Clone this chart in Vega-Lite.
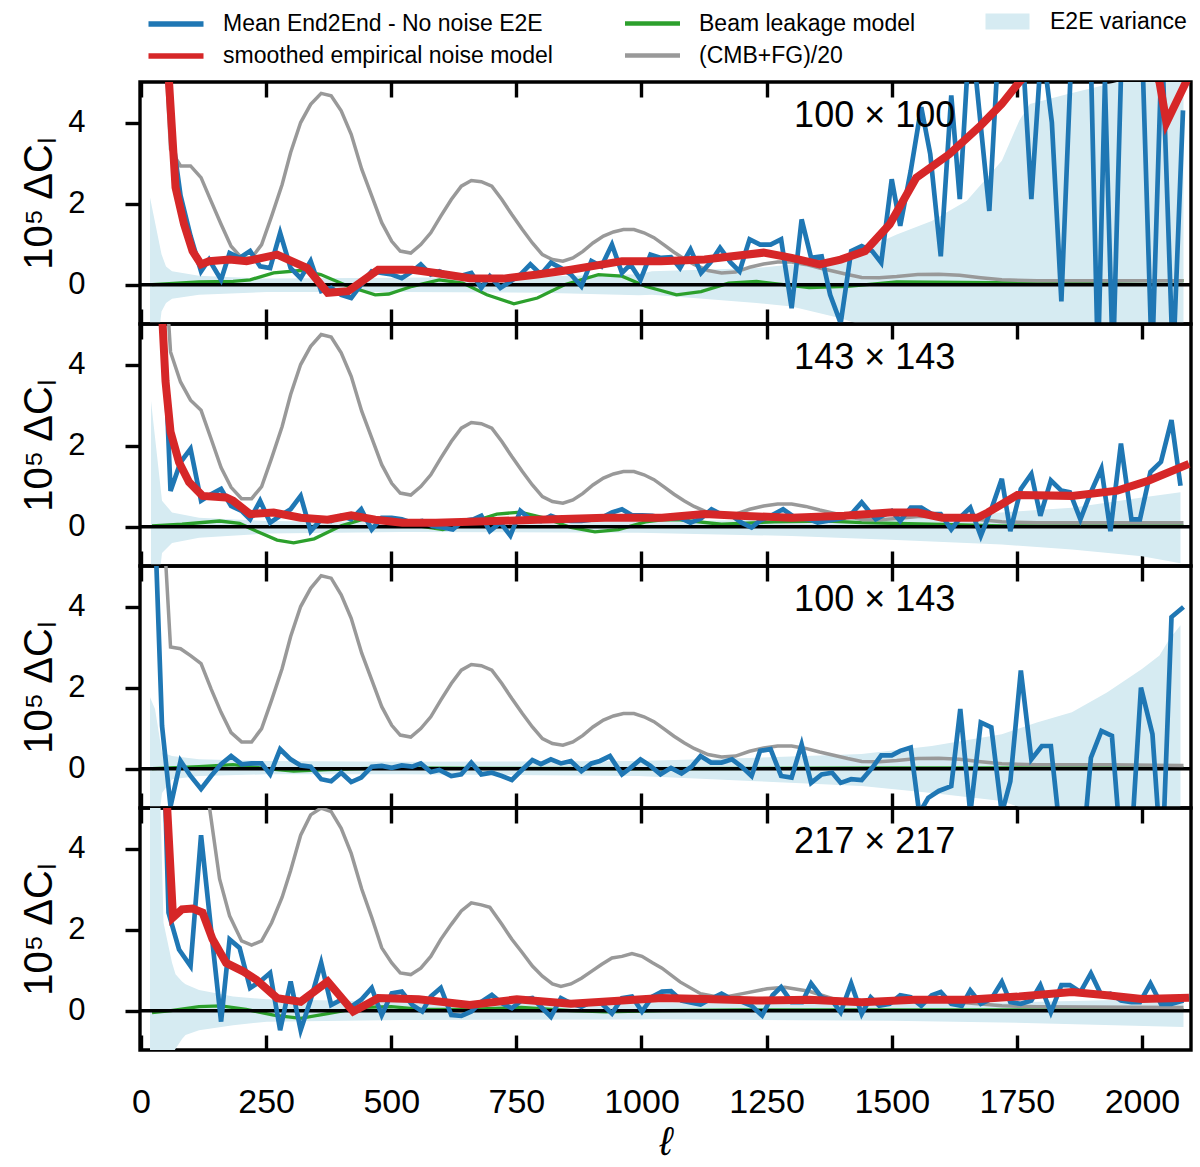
{
"$schema": "https://vega.github.io/schema/vega-lite/v6.json",
"background": "white",
"padding": {"left": 18, "top": 10, "right": 5, "bottom": 5},
"spacing": 0,
"bounds": "flush",
"config": {
 "font": "Liberation Sans",
 "view": {"stroke": "black", "strokeWidth": 3.4},
 "axis": {"domain": false, "grid": false, "tickColor": "black", "tickWidth": 3.4, "labelColor": "black", "titleColor": "black", "labelFont": "Liberation Sans", "titleFont": "Liberation Sans", "labelFontSize": 31, "labelFlush": false, "labelOverlap": false, "titleFontWeight": "normal"},
 "legend": {"labelFont": "Liberation Sans", "labelFontSize": 23, "labelColor": "black", "labelLimit": 0}
},
"datasets": {
 "b1": [{"l":38,"v":8},{"l":59,"v":4.0},{"l":79,"v":2.2},{"l":99,"v":1.2},{"l":120,"v":0.33},{"l":136,"v":0.62},{"l":160,"v":0.12},{"l":177,"v":0.78},{"l":197,"v":0.66},{"l":218,"v":0.83},{"l":238,"v":0.45},{"l":258,"v":0.41},{"l":278,"v":1.28},{"l":299,"v":0.41},{"l":319,"v":0.16},{"l":339,"v":0.58},{"l":360,"v":-0.16},{"l":380,"v":-0.08},{"l":400,"v":-0.25},{"l":420,"v":-0.33},{"l":440,"v":0},{"l":461,"v":0.33},{"l":481,"v":0.29},{"l":501,"v":0.25},{"l":521,"v":0.16},{"l":542,"v":0.33},{"l":559,"v":0.5},{"l":579,"v":0.25},{"l":596,"v":0.33},{"l":620,"v":0.21},{"l":636,"v":0.21},{"l":660,"v":0.29},{"l":680,"v":-0.08},{"l":697,"v":0.21},{"l":718,"v":-0.08},{"l":738,"v":0.08},{"l":758,"v":0.25},{"l":778,"v":0.5},{"l":799,"v":0.25},{"l":819,"v":0.54},{"l":839,"v":0.41},{"l":859,"v":0.25},{"l":880,"v":-0.04},{"l":900,"v":0.58},{"l":920,"v":0.45},{"l":941,"v":0.99},{"l":961,"v":0.29},{"l":978,"v":0.5},{"l":998,"v":0.12},{"l":1018,"v":0.74},{"l":1039,"v":0.66},{"l":1059,"v":0.68},{"l":1077,"v":0.41},{"l":1098,"v":0.87},{"l":1119,"v":0.29},{"l":1138,"v":0.55},{"l":1157,"v":0.91},{"l":1178,"v":0.55},{"l":1196,"v":0.33},{"l":1216,"v":1.12},{"l":1237,"v":0.99},{"l":1258,"v":0.99},{"l":1279,"v":1.12},{"l":1300,"v":-0.58},{"l":1320,"v":1.61},{"l":1339,"v":0.66},{"l":1360,"v":0.7},{"l":1377,"v":-0.25},{"l":1398,"v":-0.95},{"l":1419,"v":0.83},{"l":1440,"v":0.95},{"l":1461,"v":0.83},{"l":1479,"v":0.54},{"l":1500,"v":2.6},{"l":1517,"v":1.45},{"l":1538,"v":2.81},{"l":1559,"v":4.38},{"l":1577,"v":3.22},{"l":1598,"v":0.7},{"l":1619,"v":4.67},{"l":1636,"v":2.11},{"l":1657,"v":6.5},{"l":1695,"v":1.82},{"l":1716,"v":6.5},{"l":1737,"v":6},{"l":1758,"v":6.5},{"l":1779,"v":2.11},{"l":1800,"v":6},{"l":1820,"v":4},{"l":1839,"v":-0.41},{"l":1860,"v":6},{"l":1880,"v":6.5},{"l":1898,"v":5.5},{"l":1912,"v":-2},{"l":1926,"v":5},{"l":1942,"v":-2},{"l":1960,"v":6},{"l":1980,"v":7},{"l":2000,"v":6},{"l":2020,"v":-2},{"l":2040,"v":6},{"l":2062,"v":-2},{"l":2082,"v":4.3}],
 "r1": [{"l":40,"v":9},{"l":54,"v":5.4},{"l":69,"v":2.4},{"l":86,"v":1.49},{"l":103,"v":0.83},{"l":120,"v":0.5},{"l":136,"v":0.58},{"l":177,"v":0.62},{"l":211,"v":0.58},{"l":272,"v":0.74},{"l":332,"v":0.41},{"l":373,"v":-0.2},{"l":414,"v":-0.16},{"l":474,"v":0.37},{"l":542,"v":0.37},{"l":589,"v":0.29},{"l":657,"v":0.16},{"l":724,"v":0.15},{"l":792,"v":0.25},{"l":859,"v":0.37},{"l":961,"v":0.58},{"l":1039,"v":0.58},{"l":1126,"v":0.62},{"l":1244,"v":0.79},{"l":1300,"v":0.66},{"l":1356,"v":0.5},{"l":1398,"v":0.62},{"l":1447,"v":0.83},{"l":1496,"v":1.49},{"l":1549,"v":2.64},{"l":1615,"v":3.22},{"l":1678,"v":3.93},{"l":1720,"v":4.46},{"l":1755,"v":5.0},{"l":1800,"v":5.6},{"l":1900,"v":6.3},{"l":2000,"v":5.9},{"l":2035,"v":5.0},{"l":2049,"v":4.0},{"l":2092,"v":5.1}],
 "g1": [{"l":22,"v":0},{"l":116,"v":0.07},{"l":184,"v":0.08},{"l":218,"v":0.12},{"l":265,"v":0.29},{"l":319,"v":0.35},{"l":359,"v":0.25},{"l":414,"v":-0.04},{"l":468,"v":-0.25},{"l":495,"v":-0.23},{"l":542,"v":-0.04},{"l":596,"v":0.12},{"l":643,"v":0.04},{"l":691,"v":-0.25},{"l":745,"v":-0.47},{"l":792,"v":-0.33},{"l":846,"v":0},{"l":914,"v":0.25},{"l":961,"v":0.21},{"l":1008,"v":-0.04},{"l":1070,"v":-0.25},{"l":1119,"v":-0.17},{"l":1174,"v":0.04},{"l":1230,"v":0.08},{"l":1335,"v":-0.07},{"l":1412,"v":-0.04},{"l":1510,"v":0.07},{"l":1700,"v":0.05},{"l":2000,"v":0.1},{"l":2083,"v":0.1}],
 "k1": [{"l":39,"v":8},{"l":59,"v":3.34},{"l":79,"v":2.93},{"l":99,"v":2.93},{"l":120,"v":2.64},{"l":140,"v":2.06},{"l":160,"v":1.49},{"l":180,"v":0.95},{"l":201,"v":0.66},{"l":221,"v":0.66},{"l":241,"v":0.99},{"l":261,"v":1.69},{"l":282,"v":2.47},{"l":299,"v":3.26},{"l":319,"v":4.0},{"l":339,"v":4.45},{"l":360,"v":4.72},{"l":380,"v":4.66},{"l":400,"v":4.29},{"l":420,"v":3.71},{"l":441,"v":2.85},{"l":461,"v":2.19},{"l":481,"v":1.53},{"l":501,"v":1.07},{"l":518,"v":0.83},{"l":539,"v":0.78},{"l":559,"v":0.99},{"l":579,"v":1.28},{"l":599,"v":1.69},{"l":620,"v":2.1},{"l":640,"v":2.43},{"l":660,"v":2.57},{"l":680,"v":2.54},{"l":701,"v":2.43},{"l":721,"v":2.1},{"l":741,"v":1.73},{"l":762,"v":1.36},{"l":782,"v":1.03},{"l":802,"v":0.74},{"l":822,"v":0.62},{"l":843,"v":0.58},{"l":863,"v":0.66},{"l":883,"v":0.82},{"l":903,"v":1.03},{"l":924,"v":1.2},{"l":944,"v":1.3},{"l":964,"v":1.36},{"l":985,"v":1.36},{"l":1005,"v":1.28},{"l":1025,"v":1.16},{"l":1045,"v":0.98},{"l":1065,"v":0.8},{"l":1085,"v":0.64},{"l":1105,"v":0.5},{"l":1133,"v":0.35},{"l":1160,"v":0.29},{"l":1188,"v":0.31},{"l":1216,"v":0.43},{"l":1244,"v":0.51},{"l":1272,"v":0.56},{"l":1300,"v":0.56},{"l":1328,"v":0.5},{"l":1356,"v":0.41},{"l":1384,"v":0.33},{"l":1412,"v":0.25},{"l":1440,"v":0.18},{"l":1475,"v":0.17},{"l":1510,"v":0.2},{"l":1552,"v":0.25},{"l":1594,"v":0.26},{"l":1636,"v":0.23},{"l":1678,"v":0.17},{"l":1720,"v":0.12},{"l":1790,"v":0.1},{"l":1930,"v":0.1},{"l":2083,"v":0.1}],
 "v1": [{"l":18,"lo":-3,"hi":2.15},{"l":41,"lo":-0.66,"hi":0.75},{"l":50,"lo":-0.45,"hi":0.45},{"l":62,"lo":-0.35,"hi":0.33},{"l":116,"lo":-0.25,"hi":0.22},{"l":251,"lo":-0.18,"hi":0.15},{"l":522,"lo":-0.18,"hi":0.17},{"l":800,"lo":-0.2,"hi":0.2},{"l":995,"lo":-0.26,"hi":0.26},{"l":1021,"lo":-0.25,"hi":0.33},{"l":1230,"lo":-0.45,"hi":0.41},{"l":1300,"lo":-0.54,"hi":0.5},{"l":1398,"lo":-0.83,"hi":0.7},{"l":1440,"lo":-1.0,"hi":0.85},{"l":1510,"lo":-1.3,"hi":1.24},{"l":1580,"lo":-1.6,"hi":1.57},{"l":1650,"lo":-2.1,"hi":2.07},{"l":1720,"lo":-3,"hi":3.06},{"l":1755,"lo":-4,"hi":4.05},{"l":1776,"lo":-4.5,"hi":4.46},{"l":1850,"lo":-4.7,"hi":4.7},{"l":1950,"lo":-5,"hi":5.0},{"l":2020,"lo":-5.3,"hi":5.3},{"l":2083,"lo":-5.5,"hi":5.5}],
 "b2": [{"l":42,"v":6},{"l":59,"v":0.88},{"l":79,"v":1.59},{"l":99,"v":1.92},{"l":120,"v":0.64},{"l":140,"v":0.8},{"l":160,"v":0.93},{"l":180,"v":0.51},{"l":201,"v":0.39},{"l":218,"v":0.18},{"l":238,"v":0.64},{"l":258,"v":0.1},{"l":278,"v":0.27},{"l":299,"v":0.43},{"l":319,"v":0.76},{"l":339,"v":-0.11},{"l":360,"v":0.18},{"l":380,"v":0.14},{"l":400,"v":0.27},{"l":420,"v":0.18},{"l":440,"v":0.43},{"l":461,"v":-0.07},{"l":481,"v":0.22},{"l":501,"v":0.22},{"l":521,"v":0.18},{"l":542,"v":0.1},{"l":562,"v":0.14},{"l":582,"v":0.02},{"l":603,"v":-0.02},{"l":623,"v":-0.07},{"l":643,"v":0.14},{"l":664,"v":0.18},{"l":680,"v":0.27},{"l":697,"v":-0.11},{"l":718,"v":0.1},{"l":738,"v":-0.22},{"l":758,"v":0.39},{"l":778,"v":0.18},{"l":799,"v":0.14},{"l":819,"v":0.27},{"l":839,"v":0.18},{"l":859,"v":0.14},{"l":880,"v":0.14},{"l":900,"v":0.17},{"l":920,"v":0.22},{"l":941,"v":0.35},{"l":961,"v":0.43},{"l":981,"v":0.28},{"l":1001,"v":0.28},{"l":1022,"v":0.27},{"l":1041,"v":0.22},{"l":1059,"v":0.2},{"l":1077,"v":0.22},{"l":1098,"v":0.1},{"l":1119,"v":0.2},{"l":1140,"v":0.43},{"l":1160,"v":0.3},{"l":1181,"v":0.27},{"l":1200,"v":0.1},{"l":1220,"v":-0.02},{"l":1237,"v":0.15},{"l":1251,"v":0.22},{"l":1283,"v":0.43},{"l":1307,"v":0.22},{"l":1335,"v":0.18},{"l":1352,"v":0.1},{"l":1370,"v":0.14},{"l":1388,"v":0.18},{"l":1405,"v":0.22},{"l":1422,"v":0.35},{"l":1440,"v":0.6},{"l":1468,"v":0.18},{"l":1500,"v":0.39},{"l":1517,"v":0.14},{"l":1538,"v":0.47},{"l":1559,"v":0.47},{"l":1580,"v":0.31},{"l":1598,"v":0.31},{"l":1619,"v":-0.07},{"l":1640,"v":0.27},{"l":1657,"v":0.47},{"l":1678,"v":-0.23},{"l":1699,"v":0.43},{"l":1720,"v":1.18},{"l":1737,"v":-0.11},{"l":1758,"v":0.93},{"l":1779,"v":1.3},{"l":1797,"v":0.27},{"l":1818,"v":1.14},{"l":1839,"v":0.89},{"l":1856,"v":0.85},{"l":1877,"v":0.18},{"l":1898,"v":0.85},{"l":1919,"v":1.43},{"l":1937,"v":-0.11},{"l":1958,"v":2.05},{"l":1979,"v":0.18},{"l":1996,"v":0.18},{"l":2017,"v":1.35},{"l":2038,"v":1.6},{"l":2059,"v":2.63},{"l":2077,"v":1.01}],
 "r2": [{"l":39,"v":6},{"l":49,"v":3.59},{"l":59,"v":2.34},{"l":76,"v":1.59},{"l":96,"v":1.1},{"l":123,"v":0.76},{"l":170,"v":0.72},{"l":184,"v":0.64},{"l":218,"v":0.31},{"l":265,"v":0.35},{"l":319,"v":0.22},{"l":373,"v":0.17},{"l":420,"v":0.28},{"l":468,"v":0.17},{"l":522,"v":0.1},{"l":589,"v":0.1},{"l":657,"v":0.12},{"l":792,"v":0.17},{"l":927,"v":0.22},{"l":1041,"v":0.22},{"l":1126,"v":0.31},{"l":1195,"v":0.27},{"l":1300,"v":0.22},{"l":1405,"v":0.27},{"l":1496,"v":0.35},{"l":1552,"v":0.35},{"l":1601,"v":0.22},{"l":1671,"v":0.22},{"l":1692,"v":0.35},{"l":1751,"v":0.78},{"l":1860,"v":0.76},{"l":1951,"v":0.89},{"l":2014,"v":1.14},{"l":2094,"v":1.55}],
 "g2": [{"l":22,"v":0.02},{"l":82,"v":0.06},{"l":157,"v":0.14},{"l":197,"v":0.08},{"l":231,"v":-0.11},{"l":272,"v":-0.33},{"l":305,"v":-0.4},{"l":346,"v":-0.3},{"l":400,"v":0.02},{"l":454,"v":0.22},{"l":501,"v":0.2},{"l":555,"v":0.02},{"l":603,"v":-0.07},{"l":657,"v":0.1},{"l":711,"v":0.31},{"l":758,"v":0.36},{"l":805,"v":0.22},{"l":859,"v":-0.02},{"l":907,"v":-0.13},{"l":954,"v":-0.07},{"l":1008,"v":0.12},{"l":1041,"v":0.17},{"l":1077,"v":0.17},{"l":1160,"v":0.06},{"l":1265,"v":0.12},{"l":1370,"v":0.14},{"l":1440,"v":0.1},{"l":1580,"v":0.06},{"l":1720,"v":0.02},{"l":2083,"v":0.02}],
 "k2": [{"l":40,"v":8},{"l":59,"v":4.31},{"l":79,"v":3.57},{"l":99,"v":3.12},{"l":120,"v":2.87},{"l":140,"v":2.17},{"l":160,"v":1.46},{"l":180,"v":0.97},{"l":201,"v":0.69},{"l":221,"v":0.69},{"l":241,"v":0.99},{"l":261,"v":1.69},{"l":282,"v":2.47},{"l":299,"v":3.26},{"l":319,"v":4.0},{"l":339,"v":4.45},{"l":360,"v":4.74},{"l":380,"v":4.68},{"l":400,"v":4.29},{"l":420,"v":3.71},{"l":441,"v":2.85},{"l":461,"v":2.19},{"l":481,"v":1.53},{"l":501,"v":1.07},{"l":518,"v":0.83},{"l":539,"v":0.78},{"l":559,"v":0.99},{"l":579,"v":1.28},{"l":599,"v":1.69},{"l":620,"v":2.1},{"l":640,"v":2.43},{"l":660,"v":2.57},{"l":680,"v":2.54},{"l":701,"v":2.43},{"l":721,"v":2.1},{"l":741,"v":1.73},{"l":762,"v":1.36},{"l":782,"v":1.03},{"l":802,"v":0.74},{"l":822,"v":0.62},{"l":843,"v":0.58},{"l":863,"v":0.66},{"l":883,"v":0.82},{"l":903,"v":1.03},{"l":924,"v":1.2},{"l":944,"v":1.3},{"l":964,"v":1.36},{"l":985,"v":1.36},{"l":1005,"v":1.28},{"l":1025,"v":1.16},{"l":1045,"v":0.98},{"l":1065,"v":0.8},{"l":1085,"v":0.64},{"l":1105,"v":0.5},{"l":1133,"v":0.35},{"l":1160,"v":0.29},{"l":1188,"v":0.31},{"l":1216,"v":0.43},{"l":1244,"v":0.51},{"l":1272,"v":0.56},{"l":1300,"v":0.56},{"l":1328,"v":0.5},{"l":1356,"v":0.41},{"l":1384,"v":0.33},{"l":1412,"v":0.25},{"l":1440,"v":0.18},{"l":1475,"v":0.17},{"l":1510,"v":0.2},{"l":1552,"v":0.25},{"l":1594,"v":0.26},{"l":1636,"v":0.23},{"l":1678,"v":0.17},{"l":1720,"v":0.12},{"l":1790,"v":0.1},{"l":1930,"v":0.1},{"l":2083,"v":0.1}],
 "v2": [{"l":20,"lo":-3,"hi":3.1},{"l":42,"lo":-0.65,"hi":0.64},{"l":62,"lo":-0.4,"hi":0.35},{"l":116,"lo":-0.27,"hi":0.22},{"l":251,"lo":-0.17,"hi":0.14},{"l":522,"lo":-0.13,"hi":0.12},{"l":995,"lo":-0.15,"hi":0.14},{"l":1300,"lo":-0.23,"hi":0.17},{"l":1510,"lo":-0.33,"hi":0.22},{"l":1720,"lo":-0.44,"hi":0.35},{"l":1860,"lo":-0.56,"hi":0.47},{"l":2000,"lo":-0.73,"hi":0.72},{"l":2077,"lo":-0.9,"hi":0.85}],
 "b3": [{"l":28,"v":6},{"l":42,"v":1.06},{"l":59,"v":-0.93},{"l":79,"v":0.19},{"l":99,"v":-0.18},{"l":120,"v":-0.5},{"l":140,"v":-0.18},{"l":160,"v":0.11},{"l":180,"v":0.31},{"l":201,"v":0.11},{"l":221,"v":0.13},{"l":241,"v":0.13},{"l":258,"v":-0.14},{"l":278,"v":0.48},{"l":299,"v":0.23},{"l":319,"v":0.08},{"l":339,"v":0.05},{"l":360,"v":-0.26},{"l":380,"v":-0.31},{"l":400,"v":-0.1},{"l":420,"v":-0.33},{"l":440,"v":-0.22},{"l":461,"v":0.05},{"l":481,"v":0.07},{"l":501,"v":0.02},{"l":521,"v":0.08},{"l":542,"v":0.05},{"l":559,"v":0.13},{"l":579,"v":-0.08},{"l":596,"v":-0.03},{"l":620,"v":-0.18},{"l":640,"v":-0.14},{"l":660,"v":0.15},{"l":680,"v":-0.14},{"l":701,"v":-0.1},{"l":721,"v":-0.18},{"l":741,"v":-0.28},{"l":762,"v":-0.02},{"l":782,"v":0.21},{"l":799,"v":0.11},{"l":819,"v":0.23},{"l":839,"v":0.13},{"l":859,"v":0.19},{"l":880,"v":-0.06},{"l":900,"v":0.13},{"l":917,"v":0.19},{"l":937,"v":0.31},{"l":961,"v":-0.14},{"l":978,"v":0.02},{"l":998,"v":0.23},{"l":1018,"v":0.07},{"l":1038,"v":-0.14},{"l":1059,"v":0.02},{"l":1080,"v":-0.12},{"l":1100,"v":0.05},{"l":1118,"v":0.31},{"l":1139,"v":0.15},{"l":1160,"v":0.15},{"l":1181,"v":0.23},{"l":1200,"v":0.05},{"l":1220,"v":-0.18},{"l":1237,"v":0.44},{"l":1258,"v":0.48},{"l":1279,"v":-0.18},{"l":1300,"v":-0.22},{"l":1320,"v":0.6},{"l":1339,"v":-0.35},{"l":1360,"v":-0.14},{"l":1381,"v":-0.1},{"l":1398,"v":-0.35},{"l":1419,"v":-0.26},{"l":1440,"v":-0.28},{"l":1461,"v":0.02},{"l":1479,"v":0.33},{"l":1500,"v":0.33},{"l":1517,"v":0.44},{"l":1538,"v":0.52},{"l":1555,"v":-1.1},{"l":1573,"v":-0.72},{"l":1594,"v":-0.55},{"l":1619,"v":-0.43},{"l":1637,"v":1.47},{"l":1657,"v":-1.1},{"l":1678,"v":1.14},{"l":1699,"v":1.02},{"l":1720,"v":-1.1},{"l":1737,"v":-0.31},{"l":1758,"v":2.42},{"l":1779,"v":0.23},{"l":1800,"v":0.56},{"l":1818,"v":0.56},{"l":1840,"v":-2},{"l":1862,"v":-3},{"l":1882,"v":-2},{"l":1898,"v":0.27},{"l":1919,"v":0.93},{"l":1940,"v":0.81},{"l":1958,"v":-2},{"l":1978,"v":-2},{"l":1998,"v":2.0},{"l":2021,"v":0.85},{"l":2040,"v":-2.5},{"l":2059,"v":3.74},{"l":2083,"v":3.99}],
 "g3": [{"l":22,"v":0},{"l":116,"v":0.05},{"l":184,"v":0.1},{"l":251,"v":0},{"l":305,"v":-0.06},{"l":373,"v":-0.02},{"l":500,"v":0.02},{"l":700,"v":0.01},{"l":1000,"v":0.0},{"l":1500,"v":0.02},{"l":2083,"v":0.02}],
 "k3": [{"l":36,"v":8},{"l":59,"v":3.0},{"l":79,"v":2.96},{"l":99,"v":2.79},{"l":120,"v":2.59},{"l":140,"v":1.97},{"l":160,"v":1.39},{"l":180,"v":0.89},{"l":201,"v":0.66},{"l":221,"v":0.66},{"l":241,"v":0.99},{"l":261,"v":1.69},{"l":282,"v":2.47},{"l":299,"v":3.26},{"l":319,"v":4.0},{"l":339,"v":4.45},{"l":360,"v":4.76},{"l":380,"v":4.7},{"l":400,"v":4.29},{"l":420,"v":3.71},{"l":441,"v":2.85},{"l":461,"v":2.19},{"l":481,"v":1.53},{"l":501,"v":1.07},{"l":518,"v":0.83},{"l":539,"v":0.78},{"l":559,"v":0.99},{"l":579,"v":1.28},{"l":599,"v":1.69},{"l":620,"v":2.1},{"l":640,"v":2.43},{"l":660,"v":2.57},{"l":680,"v":2.54},{"l":701,"v":2.43},{"l":721,"v":2.1},{"l":741,"v":1.73},{"l":762,"v":1.36},{"l":782,"v":1.03},{"l":802,"v":0.74},{"l":822,"v":0.62},{"l":843,"v":0.58},{"l":863,"v":0.66},{"l":883,"v":0.82},{"l":903,"v":1.03},{"l":924,"v":1.2},{"l":944,"v":1.3},{"l":964,"v":1.36},{"l":985,"v":1.36},{"l":1005,"v":1.28},{"l":1025,"v":1.16},{"l":1045,"v":0.98},{"l":1065,"v":0.8},{"l":1085,"v":0.64},{"l":1105,"v":0.5},{"l":1133,"v":0.35},{"l":1160,"v":0.29},{"l":1188,"v":0.31},{"l":1216,"v":0.43},{"l":1244,"v":0.51},{"l":1272,"v":0.56},{"l":1300,"v":0.56},{"l":1328,"v":0.5},{"l":1356,"v":0.41},{"l":1384,"v":0.33},{"l":1412,"v":0.25},{"l":1440,"v":0.18},{"l":1475,"v":0.17},{"l":1510,"v":0.2},{"l":1552,"v":0.25},{"l":1594,"v":0.26},{"l":1636,"v":0.23},{"l":1678,"v":0.17},{"l":1720,"v":0.12},{"l":1790,"v":0.1},{"l":1930,"v":0.1},{"l":2083,"v":0.08}],
 "v3": [{"l":18,"lo":-3,"hi":1.76},{"l":28,"lo":-2,"hi":1.47},{"l":42,"lo":-0.6,"hi":0.4},{"l":62,"lo":-0.26,"hi":0.31},{"l":116,"lo":-0.18,"hi":0.23},{"l":251,"lo":-0.14,"hi":0.19},{"l":522,"lo":-0.14,"hi":0.17},{"l":995,"lo":-0.18,"hi":0.19},{"l":1230,"lo":-0.31,"hi":0.27},{"l":1440,"lo":-0.43,"hi":0.36},{"l":1580,"lo":-0.6,"hi":0.56},{"l":1720,"lo":-0.8,"hi":0.85},{"l":1790,"lo":-1.1,"hi":1.14},{"l":1860,"lo":-1.4,"hi":1.39},{"l":1930,"lo":-1.9,"hi":1.88},{"l":2000,"lo":-2.5,"hi":2.46},{"l":2035,"lo":-2.8,"hi":2.79},{"l":2055,"lo":-3.2,"hi":3.2},{"l":2077,"lo":-3.5,"hi":3.54}],
 "b4": [{"l":42,"v":8},{"l":55,"v":2.42},{"l":76,"v":1.51},{"l":99,"v":1.1},{"l":120,"v":4.33},{"l":140,"v":2.0},{"l":160,"v":-0.27},{"l":177,"v":1.76},{"l":197,"v":1.55},{"l":218,"v":0.56},{"l":238,"v":0.72},{"l":258,"v":0.93},{"l":278,"v":-0.48},{"l":299,"v":0.72},{"l":319,"v":-0.48},{"l":339,"v":0.27},{"l":360,"v":1.18},{"l":380,"v":0.14},{"l":400,"v":0.27},{"l":420,"v":0.1},{"l":440,"v":0.27},{"l":461,"v":0.56},{"l":481,"v":-0.11},{"l":501,"v":0.43},{"l":521,"v":0.47},{"l":542,"v":0.14},{"l":562,"v":-0.02},{"l":579,"v":0.35},{"l":599,"v":0.56},{"l":620,"v":-0.11},{"l":640,"v":-0.13},{"l":660,"v":-0.02},{"l":680,"v":0.22},{"l":701,"v":0.39},{"l":721,"v":0.18},{"l":741,"v":0.06},{"l":762,"v":0.27},{"l":782,"v":0.31},{"l":802,"v":0.06},{"l":819,"v":-0.15},{"l":839,"v":0.31},{"l":859,"v":0.18},{"l":880,"v":0.1},{"l":900,"v":0.22},{"l":920,"v":0.18},{"l":941,"v":-0.07},{"l":961,"v":0.31},{"l":981,"v":0.35},{"l":1001,"v":-0.02},{"l":1022,"v":0.35},{"l":1041,"v":0.47},{"l":1059,"v":0.48},{"l":1080,"v":0.25},{"l":1100,"v":0.2},{"l":1118,"v":0.15},{"l":1140,"v":0.3},{"l":1160,"v":0.42},{"l":1178,"v":0.3},{"l":1195,"v":0.25},{"l":1220,"v":0.12},{"l":1241,"v":-0.12},{"l":1262,"v":0.38},{"l":1279,"v":0.58},{"l":1300,"v":0.21},{"l":1321,"v":0.21},{"l":1339,"v":0.67},{"l":1360,"v":0.33},{"l":1381,"v":0.25},{"l":1398,"v":-0.04},{"l":1419,"v":0.67},{"l":1440,"v":-0.08},{"l":1458,"v":0.33},{"l":1475,"v":0.12},{"l":1496,"v":0.17},{"l":1517,"v":0.38},{"l":1538,"v":0.33},{"l":1559,"v":0.12},{"l":1580,"v":0.38},{"l":1598,"v":0.46},{"l":1619,"v":0.17},{"l":1640,"v":0.12},{"l":1657,"v":0.5},{"l":1678,"v":0.17},{"l":1699,"v":0.29},{"l":1720,"v":0.71},{"l":1737,"v":0.21},{"l":1758,"v":0.17},{"l":1779,"v":0.25},{"l":1797,"v":0.63},{"l":1818,"v":-0.04},{"l":1839,"v":0.63},{"l":1856,"v":0.63},{"l":1877,"v":0.46},{"l":1898,"v":0.92},{"l":1919,"v":0.38},{"l":1937,"v":0.42},{"l":1958,"v":0.25},{"l":1979,"v":0.21},{"l":1996,"v":0.21},{"l":2017,"v":0.67},{"l":2038,"v":0.17},{"l":2059,"v":0.17},{"l":2083,"v":0.25}],
 "r4": [{"l":40,"v":9},{"l":48,"v":6},{"l":64,"v":2.3},{"l":82,"v":2.5},{"l":103,"v":2.52},{"l":123,"v":2.42},{"l":143,"v":1.76},{"l":170,"v":1.18},{"l":204,"v":0.97},{"l":231,"v":0.76},{"l":272,"v":0.31},{"l":319,"v":0.22},{"l":373,"v":0.72},{"l":424,"v":-0.02},{"l":474,"v":0.31},{"l":555,"v":0.28},{"l":657,"v":0.14},{"l":751,"v":0.28},{"l":859,"v":0.17},{"l":1041,"v":0.31},{"l":1126,"v":0.29},{"l":1230,"v":0.25},{"l":1335,"v":0.27},{"l":1440,"v":0.21},{"l":1545,"v":0.27},{"l":1650,"v":0.27},{"l":1755,"v":0.35},{"l":1860,"v":0.46},{"l":1930,"v":0.38},{"l":2000,"v":0.29},{"l":2094,"v":0.32}],
 "g4": [{"l":22,"v":-0.05},{"l":60,"v":0},{"l":116,"v":0.1},{"l":160,"v":0.12},{"l":210,"v":0.03},{"l":265,"v":-0.11},{"l":319,"v":-0.19},{"l":373,"v":-0.07},{"l":441,"v":0.08},{"l":500,"v":0.1},{"l":560,"v":0.03},{"l":650,"v":0.03},{"l":760,"v":0.08},{"l":860,"v":0.0},{"l":930,"v":-0.03},{"l":1041,"v":0.0},{"l":1200,"v":0.02},{"l":1500,"v":0.02},{"l":2083,"v":0.02}],
 "k4": [{"l":117,"v":9},{"l":137,"v":5.0},{"l":157,"v":3.25},{"l":177,"v":2.34},{"l":201,"v":1.72},{"l":221,"v":1.62},{"l":241,"v":1.72},{"l":261,"v":2.17},{"l":282,"v":2.8},{"l":299,"v":3.46},{"l":319,"v":4.33},{"l":339,"v":4.83},{"l":360,"v":5.0},{"l":380,"v":4.91},{"l":400,"v":4.5},{"l":420,"v":3.88},{"l":441,"v":3.0},{"l":461,"v":2.3},{"l":481,"v":1.55},{"l":501,"v":1.18},{"l":518,"v":0.93},{"l":539,"v":0.89},{"l":559,"v":1.05},{"l":579,"v":1.34},{"l":599,"v":1.76},{"l":620,"v":2.13},{"l":640,"v":2.46},{"l":660,"v":2.66},{"l":680,"v":2.61},{"l":697,"v":2.55},{"l":721,"v":2.13},{"l":741,"v":1.76},{"l":762,"v":1.43},{"l":782,"v":1.1},{"l":802,"v":0.85},{"l":822,"v":0.66},{"l":839,"v":0.6},{"l":859,"v":0.66},{"l":880,"v":0.8},{"l":900,"v":0.97},{"l":920,"v":1.14},{"l":941,"v":1.3},{"l":961,"v":1.34},{"l":981,"v":1.41},{"l":1001,"v":1.34},{"l":1022,"v":1.18},{"l":1041,"v":1.05},{"l":1077,"v":0.71},{"l":1118,"v":0.42},{"l":1160,"v":0.32},{"l":1202,"v":0.42},{"l":1251,"v":0.54},{"l":1286,"v":0.58},{"l":1335,"v":0.48},{"l":1384,"v":0.29},{"l":1440,"v":0.21},{"l":1510,"v":0.23},{"l":1580,"v":0.27},{"l":1636,"v":0.21},{"l":1720,"v":0.12},{"l":1790,"v":0.1},{"l":2083,"v":0.08}],
 "v4": [{"l":18,"lo":-6,"hi":8},{"l":38,"lo":-3,"hi":5.5},{"l":45,"lo":-2.5,"hi":2.17},{"l":62,"lo":-1.1,"hi":1.18},{"l":69,"lo":-0.94,"hi":0.9},{"l":82,"lo":-0.7,"hi":0.72},{"l":89,"lo":-0.6,"hi":0.65},{"l":116,"lo":-0.48,"hi":0.51},{"l":184,"lo":-0.36,"hi":0.35},{"l":251,"lo":-0.27,"hi":0.28},{"l":522,"lo":-0.23,"hi":0.22},{"l":995,"lo":-0.22,"hi":0.22},{"l":1021,"lo":-0.21,"hi":0.21},{"l":1500,"lo":-0.25,"hi":0.2},{"l":1720,"lo":-0.29,"hi":0.2},{"l":2083,"lo":-0.4,"hi":0.3}]
},
"vconcat": [
 {
  "width": 1051, "height": 242,
  "resolve": {"axis": {"x": "independent"}},
  "layer": [
   {"data": {"name": "v1"}, "mark": {"type": "area", "clip": true},
    "encoding": {
     "x": {"field": "l", "type": "quantitative", "scale": {"domain": [-2, 2098], "nice": false, "zero": false}, "axis": {"orient": "bottom", "values": [0,250,500,750,1000,1250,1500,1750,2000], "tickSize": -15, "labels": false, "title": null}},
     "y": {"field": "hi", "type": "quantitative", "scale": {"domain": [-0.97, 5], "nice": false, "zero": false}, "axis": {"values": [0,2,4], "title": "10⁵ ΔCₗ", "tickSize": 15, "labelPadding": 40, "titlePadding": 8, "titleFontSize": 40}},
     "y2": {"field": "lo"},
     "fill": {"datum": "E2E variance", "scale": {"domain": ["E2E variance"], "range": ["#d6ebf2"]}, "legend": {"title": null, "orient": "none", "legendX": 856, "legendY": -72, "symbolType": "M-2,-0.73H2V0.73H-2Z", "symbolSize": 484, "symbolStrokeWidth": 0, "labelOffset": 31}}
    }},
   {"data": {"name": "g1"}, "mark": {"type": "line", "clip": true, "strokeWidth": 3.3},
    "encoding": {
     "x": {"field": "l", "type": "quantitative", "axis": {"orient": "top", "values": [0,250,500,750,1000,1250,1500,1750,2000], "tickSize": -15, "labels": false, "title": null}},
     "y": {"field": "v", "type": "quantitative"},
     "stroke": {"datum": "Beam leakage model", "scale": {"domain": ["Beam leakage model", "(CMB+FG)/20"], "range": ["#2ca02c", "#999999"]}, "legend": {"title": null, "orient": "none", "legendX": 499, "legendY": -72, "direction": "vertical", "symbolType": "M-2.5,0H2.5", "symbolSize": 484, "symbolStrokeWidth": 4.5, "labelOffset": 33, "rowPadding": 6}}
    }},
   {"data": {"values": [{"z": 0}]}, "mark": {"type": "rule", "color": "black", "strokeWidth": 3.5},
    "encoding": {"y": {"field": "z", "type": "quantitative"}}},
   {"data": {"name": "k1"}, "mark": {"type": "line", "clip": true, "strokeWidth": 3.5},
    "encoding": {"x": {"field": "l", "type": "quantitative", "axis": null}, "y": {"field": "v", "type": "quantitative"}, "stroke": {"datum": "(CMB+FG)/20"}}},
   {"data": {"name": "b1"}, "mark": {"type": "line", "clip": true, "strokeWidth": 4.7},
    "encoding": {"x": {"field": "l", "type": "quantitative", "axis": null}, "y": {"field": "v", "type": "quantitative"},
     "color": {"datum": "Mean End2End - No noise E2E", "scale": {"domain": ["Mean End2End - No noise E2E", "smoothed empirical noise model"], "range": ["#1f77b4", "#d62728"]}, "legend": {"title": null, "orient": "none", "legendX": 22, "legendY": -72, "direction": "vertical", "symbolType": "M-2.5,0H2.5", "symbolSize": 484, "symbolStrokeWidth": 5.5, "labelOffset": 33, "rowPadding": 6}}}},
   {"data": {"name": "r1"}, "mark": {"type": "line", "clip": true, "strokeWidth": 8},
    "encoding": {"x": {"field": "l", "type": "quantitative", "axis": null}, "y": {"field": "v", "type": "quantitative"}, "color": {"datum": "smoothed empirical noise model"}}},
   {"data": {"values": [{"label": "100 × 100"}]}, "mark": {"type": "text", "fontSize": 36, "align": "center", "baseline": "alphabetic", "font": "Liberation Sans"},
    "encoding": {"x": {"datum": 1466, "type": "quantitative", "axis": null}, "y": {"datum": 3.89, "type": "quantitative"}, "text": {"field": "label"}}}
  ]
 },
 {
  "width": 1051, "height": 242,
  "resolve": {"axis": {"x": "independent"}},
  "layer": [
   {"data": {"name": "v2"}, "mark": {"type": "area", "clip": true, "color": "#d6ebf2"},
    "encoding": {
     "x": {"field": "l", "type": "quantitative", "scale": {"domain": [-2, 2098], "nice": false, "zero": false}, "axis": {"orient": "bottom", "values": [0,250,500,750,1000,1250,1500,1750,2000], "tickSize": -15, "labels": false, "title": null}},
     "y": {"field": "hi", "type": "quantitative", "scale": {"domain": [-0.97, 5], "nice": false, "zero": false}, "axis": {"values": [0,2,4], "title": "10⁵ ΔCₗ", "tickSize": 15, "labelPadding": 40, "titlePadding": 8, "titleFontSize": 40}},
     "y2": {"field": "lo"}
    }},
   {"data": {"name": "g2"}, "mark": {"type": "line", "clip": true, "strokeWidth": 3.3, "color": "#2ca02c"},
    "encoding": {
     "x": {"field": "l", "type": "quantitative", "axis": {"orient": "top", "values": [0,250,500,750,1000,1250,1500,1750,2000], "tickSize": -15, "labels": false, "title": null}},
     "y": {"field": "v", "type": "quantitative"}
    }},
   {"data": {"values": [{"z": 0}]}, "mark": {"type": "rule", "color": "black", "strokeWidth": 3.5},
    "encoding": {"y": {"field": "z", "type": "quantitative"}}},
   {"data": {"name": "k2"}, "mark": {"type": "line", "clip": true, "strokeWidth": 3.5, "color": "#999999"},
    "encoding": {"x": {"field": "l", "type": "quantitative", "axis": null}, "y": {"field": "v", "type": "quantitative"}}},
   {"data": {"name": "b2"}, "mark": {"type": "line", "clip": true, "strokeWidth": 4.7, "color": "#1f77b4"},
    "encoding": {"x": {"field": "l", "type": "quantitative", "axis": null}, "y": {"field": "v", "type": "quantitative"}}},
   {"data": {"name": "r2"}, "mark": {"type": "line", "clip": true, "strokeWidth": 8, "color": "#d62728"},
    "encoding": {"x": {"field": "l", "type": "quantitative", "axis": null}, "y": {"field": "v", "type": "quantitative"}}},
   {"data": {"values": [{"label": "143 × 143"}]}, "mark": {"type": "text", "fontSize": 36, "align": "center", "baseline": "alphabetic", "font": "Liberation Sans"},
    "encoding": {"x": {"datum": 1466, "type": "quantitative", "axis": null}, "y": {"datum": 3.89, "type": "quantitative"}, "text": {"field": "label"}}}
  ]
 },
 {
  "width": 1051, "height": 242,
  "resolve": {"axis": {"x": "independent"}},
  "layer": [
   {"data": {"name": "v3"}, "mark": {"type": "area", "clip": true, "color": "#d6ebf2"},
    "encoding": {
     "x": {"field": "l", "type": "quantitative", "scale": {"domain": [-2, 2098], "nice": false, "zero": false}, "axis": {"orient": "bottom", "values": [0,250,500,750,1000,1250,1500,1750,2000], "tickSize": -15, "labels": false, "title": null}},
     "y": {"field": "hi", "type": "quantitative", "scale": {"domain": [-0.97, 5], "nice": false, "zero": false}, "axis": {"values": [0,2,4], "title": "10⁵ ΔCₗ", "tickSize": 15, "labelPadding": 40, "titlePadding": 8, "titleFontSize": 40}},
     "y2": {"field": "lo"}
    }},
   {"data": {"name": "g3"}, "mark": {"type": "line", "clip": true, "strokeWidth": 3.3, "color": "#2ca02c"},
    "encoding": {
     "x": {"field": "l", "type": "quantitative", "axis": {"orient": "top", "values": [0,250,500,750,1000,1250,1500,1750,2000], "tickSize": -15, "labels": false, "title": null}},
     "y": {"field": "v", "type": "quantitative"}
    }},
   {"data": {"values": [{"z": 0}]}, "mark": {"type": "rule", "color": "black", "strokeWidth": 3.5},
    "encoding": {"y": {"field": "z", "type": "quantitative"}}},
   {"data": {"name": "k3"}, "mark": {"type": "line", "clip": true, "strokeWidth": 3.5, "color": "#999999"},
    "encoding": {"x": {"field": "l", "type": "quantitative", "axis": null}, "y": {"field": "v", "type": "quantitative"}}},
   {"data": {"name": "b3"}, "mark": {"type": "line", "clip": true, "strokeWidth": 4.7, "color": "#1f77b4"},
    "encoding": {"x": {"field": "l", "type": "quantitative", "axis": null}, "y": {"field": "v", "type": "quantitative"}}},
   {"data": {"values": [{"label": "100 × 143"}]}, "mark": {"type": "text", "fontSize": 36, "align": "center", "baseline": "alphabetic", "font": "Liberation Sans"},
    "encoding": {"x": {"datum": 1466, "type": "quantitative", "axis": null}, "y": {"datum": 3.89, "type": "quantitative"}, "text": {"field": "label"}}}
  ]
 },
 {
  "width": 1051, "height": 242,
  "resolve": {"axis": {"x": "independent"}},
  "layer": [
   {"data": {"name": "v4"}, "mark": {"type": "area", "clip": true, "color": "#d6ebf2"},
    "encoding": {
     "x": {"field": "l", "type": "quantitative", "scale": {"domain": [-2, 2098], "nice": false, "zero": false}, "axis": {"orient": "bottom", "values": [0,250,500,750,1000,1250,1500,1750,2000], "format": "d", "tickSize": -15, "labels": true, "labelFontSize": 34, "labelPadding": 50, "title": "ℓ", "titleFontSize": 40, "titleFontStyle": "italic", "titlePadding": 3}},
     "y": {"field": "hi", "type": "quantitative", "scale": {"domain": [-0.97, 5], "nice": false, "zero": false}, "axis": {"values": [0,2,4], "title": "10⁵ ΔCₗ", "tickSize": 15, "labelPadding": 40, "titlePadding": 8, "titleFontSize": 40}},
     "y2": {"field": "lo"}
    }},
   {"data": {"name": "g4"}, "mark": {"type": "line", "clip": true, "strokeWidth": 3.3, "color": "#2ca02c"},
    "encoding": {
     "x": {"field": "l", "type": "quantitative", "axis": {"orient": "top", "values": [0,250,500,750,1000,1250,1500,1750,2000], "tickSize": -15, "labels": false, "title": null}},
     "y": {"field": "v", "type": "quantitative"}
    }},
   {"data": {"values": [{"z": 0}]}, "mark": {"type": "rule", "color": "black", "strokeWidth": 3.5},
    "encoding": {"y": {"field": "z", "type": "quantitative"}}},
   {"data": {"name": "k4"}, "mark": {"type": "line", "clip": true, "strokeWidth": 3.5, "color": "#999999"},
    "encoding": {"x": {"field": "l", "type": "quantitative", "axis": null}, "y": {"field": "v", "type": "quantitative"}}},
   {"data": {"name": "b4"}, "mark": {"type": "line", "clip": true, "strokeWidth": 4.7, "color": "#1f77b4"},
    "encoding": {"x": {"field": "l", "type": "quantitative", "axis": null}, "y": {"field": "v", "type": "quantitative"}}},
   {"data": {"name": "r4"}, "mark": {"type": "line", "clip": true, "strokeWidth": 8, "color": "#d62728"},
    "encoding": {"x": {"field": "l", "type": "quantitative", "axis": null}, "y": {"field": "v", "type": "quantitative"}}},
   {"data": {"values": [{"label": "217 × 217"}]}, "mark": {"type": "text", "fontSize": 36, "align": "center", "baseline": "alphabetic", "font": "Liberation Sans"},
    "encoding": {"x": {"datum": 1466, "type": "quantitative", "axis": null}, "y": {"datum": 3.89, "type": "quantitative"}, "text": {"field": "label"}}}
  ]
 }
]
}
